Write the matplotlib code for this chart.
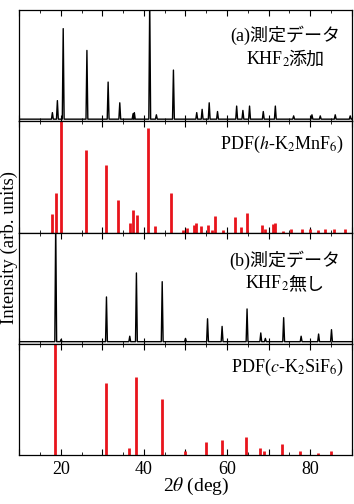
import matplotlib
matplotlib.use("Agg")
import matplotlib.pyplot as plt
from matplotlib.ticker import MultipleLocator, FuncFormatter
from matplotlib.offsetbox import TextArea, HPacker, VPacker, AnchoredOffsetbox

plt.rcParams["font.family"] = ["Liberation Serif", "Noto Sans CJK JP"]
plt.rcParams["mathtext.fontset"] = "stix"

# (a) measured, KHF2 added
a_pos = [18.0, 19.2, 20.6, 26.3, 31.4, 34.2, 37.4, 37.7, 41.4, 43.0, 47.1,
         52.7, 54.0, 55.7, 57.7, 62.3, 63.8, 65.4, 68.7, 71.6, 76.0, 80.4,
         82.4, 86.0, 89.6]
a_int = [0.06, 0.17, 0.83, 0.63, 0.34, 0.15, 0.05, 0.06, 1.10, 0.04, 0.45,
         0.06, 0.09, 0.15, 0.07, 0.12, 0.08, 0.12, 0.07, 0.12, 0.03, 0.04,
         0.03, 0.04, 0.03]

# PDF h-K2MnF6
h_pos = [17.8, 18.8, 20.0, 26.1, 31.0, 33.8, 36.6, 37.3, 38.4, 41.0, 42.7,
         46.6, 49.3, 50.3, 52.1, 52.5, 53.8, 55.3, 56.3, 57.2, 59.1, 62.0,
         63.4, 64.9, 68.4, 69.0, 71.0, 71.4, 73.4, 75.3, 78.0, 80.0, 81.9,
         83.6, 85.6, 88.4]
h_int = [0.17, 0.36, 1.00, 0.74, 0.61, 0.29, 0.09, 0.20, 0.16, 0.94, 0.06,
         0.36, 0.02, 0.04, 0.07, 0.09, 0.06, 0.07, 0.02, 0.15, 0.02, 0.14,
         0.05, 0.18, 0.07, 0.03, 0.08, 0.09, 0.01, 0.03, 0.03, 0.03, 0.02,
         0.03, 0.03, 0.03]

# (b) measured, no KHF2
b_pos = [18.8, 20.1, 31.0, 36.6, 38.2, 44.4, 50.0, 55.3, 58.8, 64.8, 68.1,
         69.2, 73.6, 77.8, 82.0, 85.1]
b_int = [1.10, 0.02, 0.41, 0.05, 0.63, 0.55, 0.03, 0.21, 0.14, 0.30, 0.08,
         0.03, 0.22, 0.05, 0.07, 0.11]

# PDF c-K2SiF6
c_pos = [18.7, 30.8, 36.4, 38.1, 44.3, 49.9, 55.0, 58.7, 64.6, 67.9, 68.9,
         73.3, 77.6, 81.8, 84.9]
c_int = [1.00, 0.65, 0.06, 0.70, 0.50, 0.04, 0.12, 0.14, 0.16, 0.06, 0.04,
         0.10, 0.04, 0.02, 0.04]

xticks_labeled = [20, 40, 60, 80]


def profile(pos, inten, w=0.22):
    xs, ys = [10], [0.0]
    for p, h in zip(pos, inten):
        xs += [p - w, p, p + w]
        ys += [0.0, h, 0.0]
    xs.append(90)
    ys.append(0.0)
    return xs, ys


def label_box(ax, lines, x, y, fs=13):
    rows = []
    for parts in lines:
        kids = [TextArea(s, textprops=dict(fontsize=fs)) for s in parts]
        rows.append(HPacker(children=kids, align="baseline", pad=0, sep=-1))
    box = VPacker(children=rows, align="center", pad=0, sep=3)
    ab = AnchoredOffsetbox(loc="upper right", child=box, frameon=False,
                           bbox_to_anchor=(x, y), bbox_transform=ax.transAxes,
                           borderpad=0, pad=0)
    ax.add_artist(ab)


fig, axes = plt.subplots(4, 1, figsize=(3.54, 5.04), dpi=100, sharex=True)
fig.subplots_adjust(left=0.054, right=0.994, top=0.98, bottom=0.097, hspace=0)

xa, ya = profile(a_pos, a_int)
axes[0].plot(xa, ya, color="black", lw=1.0)
axes[1].vlines(h_pos, 0, h_int, color="#e8141c", lw=2.0)
xb, yb = profile(b_pos, b_int)
axes[2].plot(xb, yb, color="black", lw=1.0)
axes[3].vlines(c_pos, 0, c_int, color="#e8141c", lw=2.0)

for ax in axes:
    ax.set_xlim(10, 90)
    ax.set_ylim(-0.02, 1.0)
    ax.set_yticks([])
    ax.xaxis.set_major_locator(MultipleLocator(10))
    ax.xaxis.set_minor_locator(MultipleLocator(5))
    ax.tick_params(which="both", direction="in", top=True, bottom=True,
                   labelsize=13, pad=4)
    ax.tick_params(which="major", length=4)
    ax.tick_params(which="minor", length=2)
    for s in ax.spines.values():
        s.set_linewidth(0.9)
axes[1].set_ylim(0, 1.0)
axes[3].set_ylim(0, 1.0)
axes[3].xaxis.set_major_formatter(
    FuncFormatter(lambda v, p: f"{v:.0f}" if int(round(v)) in xticks_labeled else ""))

label_box(axes[0], [["(a)測定データ"], ["KHF$_2$", "添加"]], 0.965, 0.86)
label_box(axes[1], [["PDF($h$-K$_2$MnF$_6$)"]], 0.975, 0.89)
label_box(axes[2], [["(b)測定データ"], ["KHF$_2$", "無し"]], 0.965, 0.84)
label_box(axes[3], [["PDF($c$-K$_2$SiF$_6$)"]], 0.975, 0.88)

fig.text(0.555, 0.034, r"2$\theta$ (deg)", ha="center", va="center", fontsize=14)
fig.text(0.027, 0.508, "Intensity (arb. units)", rotation=90,
         ha="center", va="center", fontsize=13.5)

fig.savefig("out.png", dpi=100)
